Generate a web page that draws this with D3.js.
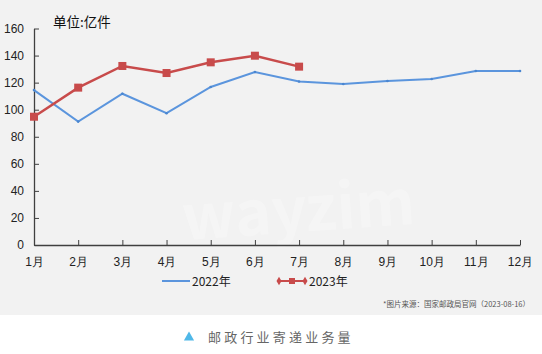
<!DOCTYPE html>
<html>
<head>
<meta charset="utf-8">
<script src="https://cdn.jsdelivr.net/npm/d3@7"></script>
<style>
  body { margin: 0; background: #fff; }
  svg { display: block; font-family: "Noto Sans CJK SC", "Noto Sans", sans-serif; }
</style>
</head>
<body>
<div id="chart"></div>
<script>
// data
const months = ["1月", "2月", "3月", "4月", "5月", "6月", "7月", "8月", "9月", "10月", "11月", "12月"];
const yTicks = [0, 20, 40, 60, 80, 100, 120, 140, 160];
const volume2022 = [114.5, 91.2, 111.8, 97.4, 116.8, 127.9, 120.8, 119.0, 121.2, 122.7, 128.6, 128.6];
const volume2023 = [94.8, 116.3, 132.3, 127.1, 135.0, 139.9, 131.8];

const W = 542, H = 354;
const margin = {top: 28.5, left: 34, right: 22, bottom: 109};
const width = W - margin.left - margin.right,
    height = H - margin.top - margin.bottom;

const svg = d3.select("#chart").append("svg")
    .attr("width", W)
    .attr("height", H);

// grey panel
svg.append("rect")
    .attr("width", W).attr("height", 315)
    .attr("fill", "#f2f2f2");

// faint watermark
svg.append("text")
    .attr("x", 300).attr("y", 232)
    .attr("text-anchor", "middle")
    .attr("font-size", 62)
    .attr("font-weight", "bold")
    .attr("fill", "#ffffff")
    .attr("opacity", 0.25)
    .attr("transform", "rotate(-4, 300, 232)")
    .text("wayzim");

const g = svg.append("g")
    .attr("transform", `translate(${margin.left}, ${margin.top})`);

const x = d3.scalePoint()
    .domain(months)
    .range([0, width]);

const y = d3.scaleLinear()
    .domain([0, 160])
    .range([height, 0]);

// axes
const yAxis = g.append("g")
    .call(d3.axisLeft(y).tickValues(yTicks).tickSizeInner(-5).tickSizeOuter(0).tickPadding(10));
yAxis.select(".domain").attr("stroke", "#404040").attr("stroke-width", 1.3);
yAxis.selectAll(".tick line").attr("stroke", "#404040");
yAxis.selectAll("text")
    .attr("font-size", 12)
    .attr("fill", "#222")
    .attr("font-family", "Liberation Sans, Arial, sans-serif");

const xAxis = g.append("g")
    .attr("transform", `translate(0, ${height})`)
    .call(d3.axisBottom(x).tickSizeInner(-5).tickSizeOuter(0).tickPadding(12));
xAxis.select(".domain").attr("stroke", "#404040").attr("stroke-width", 1.3);
xAxis.selectAll(".tick line").attr("stroke", "#404040");
xAxis.selectAll("text")
    .attr("font-size", 12)
    .attr("fill", "#222");

// unit label
g.append("text")
    .attr("x", 19).attr("y", -2)
    .attr("font-size", 13.5)
    .attr("fill", "#111")
    .text("单位:亿件");

const line = d3.line()
    .x((d, i) => x(months[i]))
    .y((d) => y(d));

// 2022 line
g.append("path")
    .datum(volume2022)
    .attr("fill", "none")
    .attr("stroke", "#5b95dd")
    .attr("stroke-width", 2)
    .attr("d", line);

g.selectAll(".dot22")
    .data(volume2022)
    .join("circle")
    .attr("cx", (d, i) => x(months[i]))
    .attr("cy", (d) => y(d))
    .attr("r", 1.3)
    .attr("fill", "#4a86d0");

// 2023 line
g.append("path")
    .datum(volume2023)
    .attr("fill", "none")
    .attr("stroke", "#c84b4b")
    .attr("stroke-width", 2.5)
    .attr("d", line);

g.selectAll(".sq23")
    .data(volume2023)
    .join("rect")
    .attr("x", (d, i) => x(months[i]) - 4)
    .attr("y", (d) => y(d) - 4)
    .attr("width", 8)
    .attr("height", 8)
    .attr("fill", "#c84b4b");

// legend
const leg = svg.append("g");
leg.append("line")
    .attr("x1", 162).attr("x2", 190).attr("y1", 281).attr("y2", 281)
    .attr("stroke", "#5b95dd").attr("stroke-width", 2);
leg.append("text")
    .attr("x", 192).attr("y", 285.5)
    .attr("font-size", 12).attr("fill", "#222")
    .text("2022年");

leg.append("line")
    .attr("x1", 279).attr("x2", 305).attr("y1", 281).attr("y2", 281)
    .attr("stroke", "#c84b4b").attr("stroke-width", 2);
[279, 305].forEach((cx) => {
    leg.append("path")
        .attr("d", d3.symbol(d3.symbolDiamond, 22)())
        .attr("transform", `translate(${cx}, 281)`)
        .attr("fill", "#c84b4b");
});
leg.append("rect")
    .attr("x", 289).attr("y", 278).attr("width", 6).attr("height", 6)
    .attr("fill", "#c84b4b");
leg.append("text")
    .attr("x", 309).attr("y", 285.5)
    .attr("font-size", 12).attr("fill", "#222")
    .text("2023年");

// source note
svg.append("text")
    .attr("x", 530).attr("y", 306.5)
    .attr("text-anchor", "end")
    .attr("font-size", 7.5)
    .attr("fill", "#555")
    .text("*图片来源：国家邮政局官网（2023-08-16）");

// caption
svg.append("path")
    .attr("d", d3.symbol(d3.symbolTriangle, 45)())
    .attr("transform", "translate(189, 337.5)")
    .attr("fill", "#4fb8e8");
svg.append("text")
    .attr("x", 208).attr("y", 342)
    .attr("font-size", 13)
    .attr("letter-spacing", 3.2)
    .attr("fill", "#666")
    .text("邮政行业寄递业务量");
</script>
</body>
</html>
